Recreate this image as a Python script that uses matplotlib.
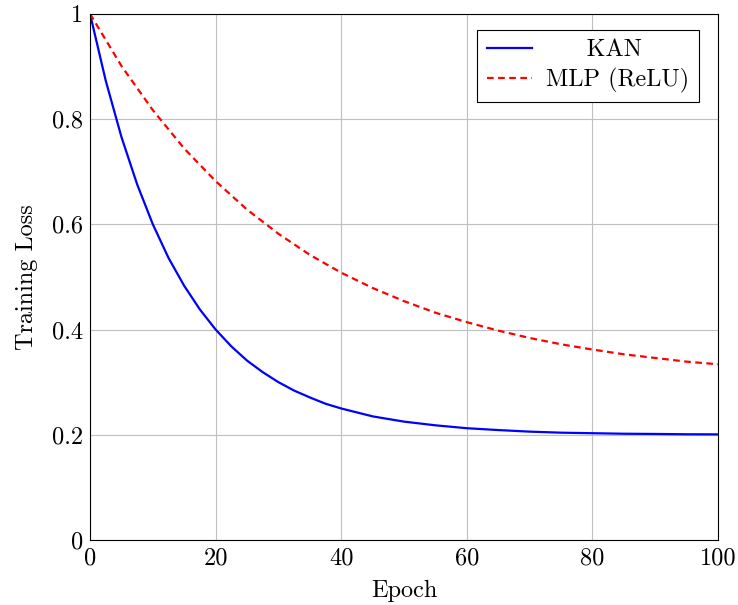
import matplotlib
matplotlib.use("Agg")
import matplotlib.pyplot as plt

# values
epochs_kan = [0, 2.5, 5, 7.5, 10, 12.5, 15, 17.5, 20, 22.5, 25, 27.5, 30, 32.5,
              35, 37.5, 40, 45, 50, 55, 60, 65, 70, 75, 80, 85, 90, 95, 100]
loss_kan = [1.0, 0.873, 0.766, 0.676, 0.600, 0.536, 0.483, 0.438, 0.400, 0.368,
            0.341, 0.319, 0.300, 0.284, 0.271, 0.259, 0.250, 0.235, 0.225,
            0.218, 0.2125, 0.209, 0.206, 0.204, 0.203, 0.202, 0.2016, 0.201,
            0.2008]

epochs_mlp = [0, 5, 10, 15, 20, 25, 30, 35, 40, 45, 50, 55, 60, 65, 70, 75,
              80, 85, 90, 95, 100]
loss_mlp = [1.0, 0.901, 0.817, 0.744, 0.682, 0.628, 0.582, 0.542, 0.508, 0.479,
            0.454, 0.432, 0.414, 0.398, 0.384, 0.372, 0.362, 0.353, 0.346,
            0.339, 0.334]

x_ticks = [0, 20, 40, 60, 80, 100]
y_ticks = [0, 0.2, 0.4, 0.6, 0.8, 1]
y_tick_labels = ["0", "0.2", "0.4", "0.6", "0.8", "1"]

plt.rcParams["font.family"] = "serif"
plt.rcParams["font.serif"] = ["cmr10", "DejaVu Serif"]
plt.rcParams["mathtext.fontset"] = "cm"
plt.rcParams["axes.formatter.use_mathtext"] = True

FS = 17.5

fig = plt.figure(figsize=(7.38, 6.05), dpi=100)
ax = fig.add_axes([0.122, 0.1074, 0.851, 0.8697])

ax.plot(epochs_kan, loss_kan, color="blue", lw=1.6, label="     KAN")
ax.plot(epochs_mlp, loss_mlp, color="red", lw=1.6, ls=(0, (3, 2)), label="MLP (ReLU)")

ax.set_xlim(0, 100)
ax.set_ylim(0, 1)
ax.set_xticks(x_ticks)
ax.set_xticklabels([str(t) for t in x_ticks])
ax.set_yticks(y_ticks)
ax.set_yticklabels(y_tick_labels)
ax.tick_params(direction="in", top=False, right=False, length=0, pad=5, labelsize=FS)
ax.grid(True, color="#bfbfbf", lw=0.8)
ax.set_axisbelow(True)
for s in ax.spines.values():
    s.set_linewidth(0.8)

ax.set_xlabel("Epoch", fontsize=FS, labelpad=8)
ax.set_ylabel("Training Loss", fontsize=FS, labelpad=10)

leg = ax.legend(loc="upper right", fontsize=FS, fancybox=False, edgecolor="black",
                framealpha=1, handlelength=1.85, handletextpad=0.6, borderpad=0.4,
                labelspacing=0.25, borderaxespad=0, bbox_to_anchor=(0.97, 0.97))
leg.get_frame().set_linewidth(0.8)

fig.savefig("out.png", dpi=100)
